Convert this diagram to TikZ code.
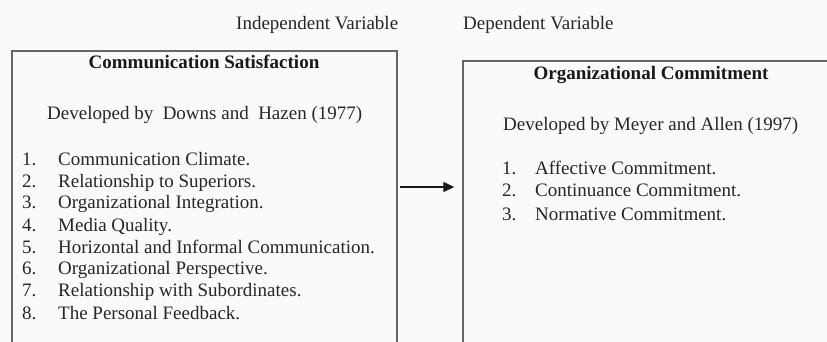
\documentclass[tikz,border=0pt]{standalone}
\usepackage{fontspec}
\setmainfont{Liberation Serif}
\usetikzlibrary{arrows.meta}
\begin{document}
\begin{tikzpicture}[x=1pt,y=-1pt,
  txt/.style={inner sep=0pt,anchor=base west,font=\fontsize{19}{22}\selectfont,text=black!85},
  ttl/.style={inner sep=0pt,anchor=base,font=\fontsize{19}{22}\selectfont\bfseries,text=black!90},
  box/.style={draw=black!60,line width=1.4pt,inner sep=0pt},
  arr/.style={-{Triangle[length=11pt,width=10pt]},line width=1.3pt,draw=black!90}]
\useasboundingbox (0,0) rectangle (827,342);
\clip (0,0) rectangle (827,342);
\fill[white!98!black] (0,0) rectangle (827,342);
% boxes
\node[box,minimum width=385pt,minimum height=310pt] (L) at (204.5,206) {};
\node[box,minimum width=380pt,minimum height=300pt] (R) at (653,211) {};
% headers
\node[txt] (iv) at (236,30) {Independent Variable};
\node[txt] (dv) at (463,30) {Dependent Variable};
% left content
\node[ttl] (lt) at (204,69) {Communication Satisfaction};
\node[txt] (ld) at (47,120) {Developed by\ \ Downs and\ \ Hazen (1977)};
\foreach \n/\t/\y in {1/Communication Climate./165,2/Relationship to Superiors./187,3/Organizational Integration./208,4/Media Quality./231,5/Horizontal and Informal Communication./253,6/Organizational Perspective./274,7/Relationship with Subordinates./296,8/The Personal Feedback./319}{
  \node[txt] (ln\n) at (22,\y) {\n.};
  \node[txt] (lx\n) at (58,\y) {\t};
}
% right content
\node[ttl] (rt) at (651,80) {Organizational Commitment};
\node[txt] (rd) at (503,131) {Developed by Meyer and Allen (1997)};
\foreach \n/\t/\y in {1/Affective Commitment./174,2/Continuance Commitment./196,3/Normative Commitment./220}{
  \node[txt] (rn\n) at (502,\y) {\n.};
  \node[txt] (rx\n) at (535,\y) {\t};
}
% arrow
\coordinate (a1) at ([xshift=2pt]L.east |- 0,187);
\coordinate (a2) at ([xshift=-8pt]R.west |- 0,187);
\draw[arr] (a1) -- (a2);
\end{tikzpicture}
\end{document}
